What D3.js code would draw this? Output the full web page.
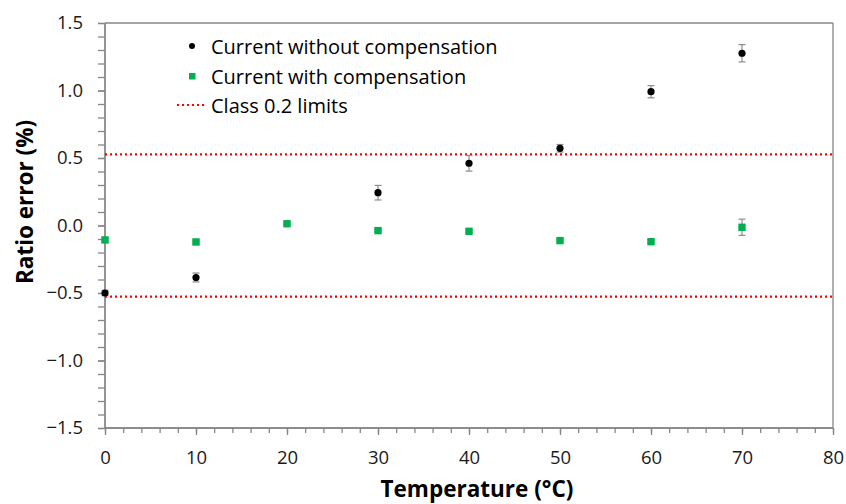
<!DOCTYPE html>
<html>
<head>
<meta charset="utf-8">
<script src="https://cdn.jsdelivr.net/npm/d3@7"></script>
<style>
  html, body { margin: 0; padding: 0; background: #fff; }
  svg text { font-family: "Open Sans", sans-serif; }
</style>
</head>
<body>
<svg id="chart" width="846" height="504"></svg>
<script>
// Temperature steps (°C)
const temps = [0, 10, 20, 30, 40, 50, 60, 70];
// Ratio error (%) of the current channel, without compensation (no reading at 20 °C)
const withoutComp = [-0.50, -0.385, null, 0.243, 0.461, 0.572, 0.991, 1.276];
const withoutErr  = [0.02, 0.033, null, 0.054, 0.058, 0.028, 0.045, 0.064];
// Ratio error (%) with compensation applied
const withComp = [-0.107, -0.122, 0.013, -0.038, -0.043, -0.112, -0.120, -0.013];
const withErr  = [0.008, 0.008, 0.008, 0.008, 0.008, 0.008, 0.012, 0.06];
// Accuracy class 0.2 limits (%)
const classLimits = [0.527, -0.527];
// Axis ticks
const xTicks = [0, 10, 20, 30, 40, 50, 60, 70, 80];
const yTicks = [1.5, 1.0, 0.5, 0.0, -0.5, -1.0, -1.5];
const legendLabels = ["Current without compensation", "Current with compensation", "Class 0.2 limits"];

const svg = d3.select("#chart");
const m = { left: 105, right: 833, top: 23, bottom: 428 };
const x = d3.scaleLinear().domain([0, 80]).range([m.left, m.right]);
const y = d3.scaleLinear().domain([-1.5, 1.5]).range([m.bottom, m.top]);

const axisColor = "#868686";
const font = "'Open Sans', sans-serif";
const fmt = v => (v < 0 ? "\u2212" : "") + Math.abs(v).toFixed(1);

// Frame: top and right borders
svg.append("line").attr("x1", m.left).attr("x2", m.right).attr("y1", m.top).attr("y2", m.top)
  .attr("stroke", axisColor).attr("stroke-width", 1.3);
svg.append("line").attr("x1", m.right).attr("x2", m.right).attr("y1", m.top).attr("y2", m.bottom)
  .attr("stroke", axisColor).attr("stroke-width", 1.3);

// Y axis with minor ticks every 0.1
const yMinor = d3.range(-15, 16).map(d => d / 10);
const yAxisG = svg.append("g").attr("transform", `translate(${m.left},0)`)
  .call(d3.axisLeft(y).tickValues(yMinor).tickSize(7).tickFormat(""));
const yLabels = svg.append("g").attr("transform", `translate(${m.left},0)`)
  .call(d3.axisLeft(y).tickValues(yTicks).tickSize(7).tickPadding(15).tickFormat(fmt));
[yAxisG, yLabels].forEach(g => {
  g.selectAll("path, line").attr("stroke", axisColor).attr("stroke-width", 1.3);
  g.select(".domain").attr("d", `M0,${m.top}V${m.bottom}`);
});
yLabels.selectAll("text").attr("font-size", 18.5).attr("fill", "#1a1a1a")
  .style("font-family", font);

// X axis with minor ticks every 2
const xMinor = d3.range(0, 81, 2);
const xAxisG = svg.append("g").attr("transform", `translate(0,${m.bottom})`)
  .call(d3.axisBottom(x).tickValues(xMinor).tickSize(5).tickFormat(""));
const xLabels = svg.append("g").attr("transform", `translate(0,${m.bottom})`)
  .call(d3.axisBottom(x).tickValues(xTicks).tickSize(7).tickPadding(16).tickFormat(d3.format("d")));
[xAxisG, xLabels].forEach(g => {
  g.selectAll("path, line").attr("stroke", axisColor).attr("stroke-width", 1.3);
  g.select(".domain").attr("d", `M${m.left},0H${m.right}`);
});
xLabels.selectAll("text").attr("font-size", 18.5).attr("fill", "#1a1a1a")
  .style("font-family", font);

// Axis titles
svg.append("text").attr("x", 477).attr("y", 497)
  .attr("text-anchor", "middle").attr("font-size", 22.5).attr("font-weight", "bold")
  .attr("fill", "#000").text("Temperature (\u00B0C)");
svg.append("text").attr("transform", "translate(33,202) rotate(-90)")
  .attr("text-anchor", "middle").attr("font-size", 22.5).attr("font-weight", "bold")
  .attr("fill", "#000").text("Ratio error (%)");

// Class limit lines
svg.selectAll(".limit").data(classLimits).join("line").attr("class", "limit")
  .attr("x1", m.left).attr("x2", m.right)
  .attr("y1", d => y(d)).attr("y2", d => y(d))
  .attr("stroke", "#ff0000").attr("stroke-width", 2.2).attr("stroke-dasharray", "2,3");

// Error bars
function errorBars(vals, errs, cls) {
  const pts = temps.map((t, i) => ({ t, v: vals[i], e: errs[i] })).filter(d => d.v !== null);
  const g = svg.append("g").attr("class", cls);
  g.selectAll("line.v").data(pts).join("line").attr("class", "v")
    .attr("x1", d => x(d.t)).attr("x2", d => x(d.t))
    .attr("y1", d => y(d.v - d.e)).attr("y2", d => y(d.v + d.e))
    .attr("stroke", "#8c8c8c").attr("stroke-width", 1.2);
  ["lo", "hi"].forEach(k => {
    g.selectAll("line." + k).data(pts).join("line").attr("class", k)
      .attr("x1", d => x(d.t) - 3.5).attr("x2", d => x(d.t) + 3.5)
      .attr("y1", d => y(k === "lo" ? d.v - d.e : d.v + d.e))
      .attr("y2", d => y(k === "lo" ? d.v - d.e : d.v + d.e))
      .attr("stroke", "#8c8c8c").attr("stroke-width", 1.2);
  });
  return pts;
}

const withPts = errorBars(withComp, withErr, "err-with");
svg.append("g").selectAll("rect").data(withPts).join("rect")
  .attr("x", d => x(d.t) - 3.7).attr("y", d => y(d.v) - 3.7)
  .attr("width", 7.4).attr("height", 7.4).attr("fill", "#00b050");

const withoutPts = errorBars(withoutComp, withoutErr, "err-without");
svg.append("g").selectAll("circle").data(withoutPts).join("circle")
  .attr("cx", d => x(d.t)).attr("cy", d => y(d.v)).attr("r", 3.6).attr("fill", "#000");

// Legend
const leg = svg.append("g");
const legY = [46, 76, 105];
leg.append("circle").attr("cx", 192).attr("cy", legY[0]).attr("r", 3).attr("fill", "#000");
leg.append("rect").attr("x", 189).attr("y", legY[1] - 3).attr("width", 6.5).attr("height", 6.5).attr("fill", "#00b050");
leg.append("line").attr("x1", 177).attr("x2", 207).attr("y1", legY[2]).attr("y2", legY[2])
  .attr("stroke", "#ff0000").attr("stroke-width", 2).attr("stroke-dasharray", "2,3");
leg.selectAll("text").data(legendLabels).join("text")
  .attr("x", 211).attr("y", (d, i) => legY[i] + 7.5)
  .attr("font-size", 20).attr("fill", "#000").text(d => d);
</script>
</body>
</html>
